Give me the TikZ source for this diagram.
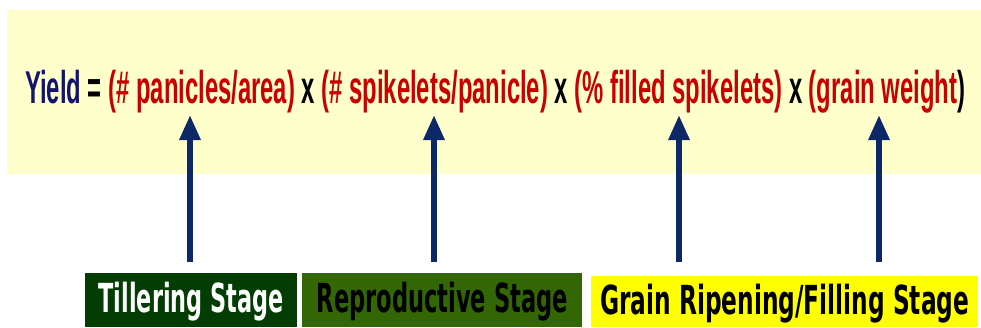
\documentclass[tikz,border=0pt]{standalone}
\usepackage{graphicx}
\usepackage{fontspec}
\setmainfont{Liberation Sans}
\newfontfamily\stagefont{DejaVu Sans}
\usetikzlibrary{arrows.meta}
\definecolor{bgyellow}{HTML}{FFFFCC}
\definecolor{yieldnavy}{HTML}{14146E}
\definecolor{termred}{HTML}{C80000}
\definecolor{arrownavy}{HTML}{0C2868}
\definecolor{tillgreen}{HTML}{033D03}
\definecolor{reprogreen}{HTML}{336604}
\definecolor{grainyellow}{HTML}{FFFF00}
\tikzset{
  uparrow/.style={draw=arrownavy, line width=6pt,
    -{Triangle[width=20pt,length=25pt]}},
  stagebox/.style={inner sep=0pt, text height=25pt, text depth=0pt,
    font=\stagefont\bfseries\fontsize{40}{42}\selectfont},
}
\begin{document}
\begin{tikzpicture}[x=1pt,y=-1pt]
\useasboundingbox (0,0) rectangle (981,327);
\fill[bgyellow] (7,10) rectangle (981,174);
\node[inner sep=0pt, anchor=base west, font=\bfseries\fontsize{46}{48}\selectfont] (eq) at (25,103)
  {\resizebox{940pt}{\height}{\textcolor{yieldnavy}{Yield} = \textcolor{termred}{(\# panicles/area)} x \textcolor{termred}{(\# spikelets/panicle)} x \textcolor{termred}{(\% filled spikelets)} x \textcolor{termred}{(grain weight}\kern0pt)}};
% stage boxes
\node[stagebox, fill=tillgreen, text=white, minimum width=212pt, minimum height=54pt, anchor=north west] (till) at (85,273)
  {\resizebox{185pt}{\height}{Tillering Stage}};
\node[stagebox, fill=reprogreen, text=black, minimum width=280pt, minimum height=54pt, anchor=north west] (repro) at (302,273)
  {\resizebox{251pt}{\height}{Reproductive Stage}};
\node[stagebox, fill=grainyellow, text=black, minimum width=387pt, minimum height=51pt, anchor=north west] (grain) at (591,276)
  {\resizebox{369pt}{\height}{Grain Ripening/Filling Stage}};
% arrows
\coordinate (t1) at (190,262); \coordinate (h1) at (190,115);
\coordinate (t2) at (434,262); \coordinate (h2) at (434,115);
\coordinate (t3) at (679,262); \coordinate (h3) at (679,115);
\coordinate (t4) at (879,262); \coordinate (h4) at (879,115);
\draw[uparrow] (t1) -- (h1);
\draw[uparrow] (t2) -- (h2);
\draw[uparrow] (t3) -- (h3);
\draw[uparrow] (t4) -- (h4);
\end{tikzpicture}
\end{document}
